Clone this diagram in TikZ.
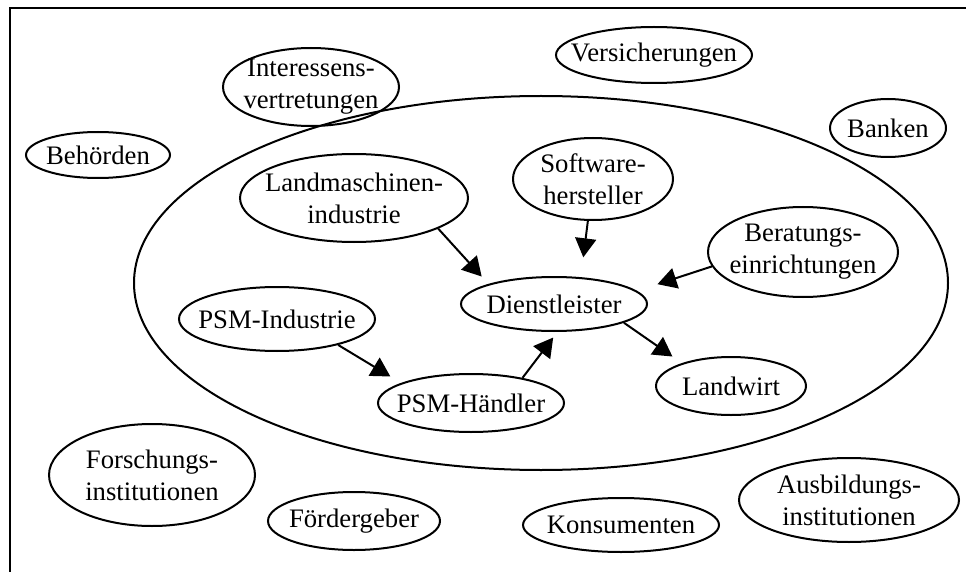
\documentclass[tikz,border=0pt]{standalone}
\usepackage{fontspec}
\setmainfont{Liberation Serif}
\usetikzlibrary{arrows.meta,shapes.geometric}
\begin{document}
\begin{tikzpicture}[x=1pt,y=-1pt,
  el/.style n args={2}{ellipse, draw, line width=2pt, inner sep=0pt,
    minimum width=#1, minimum height=#2},
  lbl/.style={align=center, inner sep=0pt, font=\fontsize{26.7}{32}\selectfont},
  arr/.style={line width=2pt, -{Triangle[length=19pt,width=21pt]}},
]
\path[use as bounding box] (0,0) rectangle (966,572);
\clip (0,0) rectangle (966,572);
\fill[white] (0,0) rectangle (966,572);
% outer frame, running off the right and bottom edges
\draw[line width=2.5pt] (10,8) rectangle (1000,600);

% actors outside the system
\node[el={176pt}{78pt}]  (iv) at (311,87)  {};
\node[el={196pt}{56pt}]  (vs) at (654,55)  {};
\node[el={116pt}{58pt}]  (bk) at (888,128) {};
\node[el={144pt}{46pt}]  (bh) at (98,155)  {};
\node[el={206pt}{102pt}] (fi) at (152,475) {};
\node[el={172pt}{58pt}]  (fg) at (354,521) {};
\node[el={196pt}{54pt}]  (ko) at (621,525) {};
\node[el={220pt}{84pt}]  (ai) at (849,500) {};

% the system boundary
\node[el={814pt}{374pt}] (sys) at (541,283) {};

% actors inside the system
\node[el={228pt}{88pt}]  (lm) at (354,198) {};
\node[el={160pt}{82pt}]  (sw) at (593,179) {};
\node[el={190pt}{90pt}]  (be) at (803,252) {};
\node[el={186pt}{54pt}]  (dl) at (554,304) {};
\node[el={196pt}{64pt}]  (pi) at (277,319) {};
\node[el={186pt}{58pt}]  (ph) at (471,403) {};
\node[el={150pt}{58pt}]  (lw) at (731,386) {};

% labels
\node[lbl] (ivt) at (iv) {Interessens-\\vertretungen};
\node[lbl] (vst) at (vs) {Versicherungen};
\node[lbl] (bkt) at (bk) {Banken};
\node[lbl] (bht) at (bh) {Behörden};
\node[lbl] (fit) at (fi) {Forschungs-\\institutionen};
\node[lbl] (fgt) at (fg) {Fördergeber};
\node[lbl] (kot) at (ko) {Konsumenten};
\node[lbl] (ait) at (ai) {Ausbildungs-\\institutionen};
\node[lbl] (lmt) at (lm) {Landmaschinen-\\industrie};
\node[lbl] (swt) at (sw) {Software-\\hersteller};
\node[lbl] (bet) at (be) {Beratungs-\\einrichtungen};
\node[lbl] (dlt) at (dl) {Dienstleister};
\node[lbl] (pit) at (pi) {PSM-Industrie};
\node[lbl] (pht) at (ph) {PSM-Händler};
\node[lbl] (lwt) at (lw) {Landwirt};

% flows
\draw[arr, shorten >=10pt]   (lm.-20) -- (dl.163);
\draw[arr, shorten >=20pt]   (sw.-97) -- (dl.45);
\draw[arr, shorten >=21.5pt] (be.189) -- (dl.9);
\draw[arr, shorten >=11.5pt] (dl.-15) -- (lw.155);
\draw[arr, shorten >=12.5pt] (pi.-23) -- (ph.164);
\draw[arr, shorten >=7pt]    (ph.26)  -- (dl.-83);
\end{tikzpicture}
\end{document}
